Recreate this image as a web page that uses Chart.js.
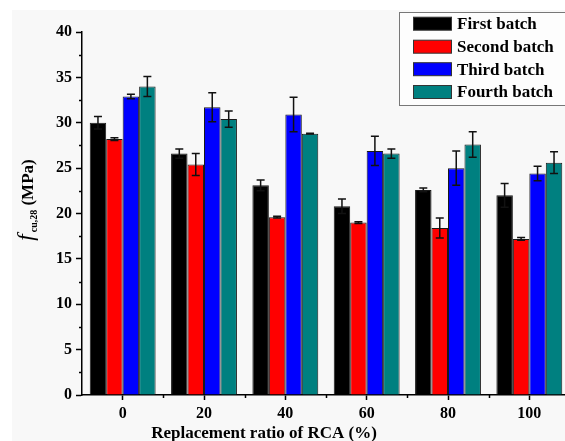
<!DOCTYPE html>
<html>
<head>
<meta charset="utf-8">
<script src="https://cdn.jsdelivr.net/npm/chart.js@4"></script>
<style>
  html, body { margin: 0; padding: 0; background: #fff; overflow: hidden; }
</style>
</head>
<body>
<canvas id="myChart" width="580" height="441"></canvas>
<script>
// replacement ratio of RCA (%)
var categories = ['0', '20', '40', '60', '80', '100'];

// f_cu,28 (MPa), with the half-length of each error bar
var firstBatch = [30.0, 26.6, 23.1, 20.8, 22.6, 22.0];
var firstErr = [0.7, 0.5, 0.6, 0.8, 0.2, 1.3];
var secondBatch = [28.2, 25.4, 19.6, 19.0, 18.4, 17.2];
var secondErr = [0.15, 1.2, 0.1, 0.1, 1.1, 0.15];
var thirdBatch = [32.9, 31.7, 30.9, 26.9, 25.0, 24.4];
var thirdErr = [0.25, 1.6, 1.9, 1.6, 1.9, 0.8];
var fourthBatch = [34.0, 30.4, 28.8, 26.6, 27.6, 25.6];
var fourthErr = [1.1, 0.9, 0.05, 0.5, 1.4, 1.2];

var seriesNames = ['First batch', 'Second batch', 'Third batch', 'Fourth batch'];
var seriesColors = ['#000000', '#ff0000', '#0000ff', '#008080'];
var yTicks = [0, 5, 10, 15, 20, 25, 30, 35, 40];

var FONT = '"Liberation Serif", "Times New Roman", serif';

var errors = [firstErr, secondErr, thirdErr, fourthErr];

// background, minor ticks, error bars, legend and axis titles
var extras = {
  id: 'extras',
  beforeDraw: function (chart) {
    var c = chart.ctx;
    c.save();
    c.fillStyle = '#ffffff';
    c.fillRect(0, 0, chart.width, chart.height);
    c.fillStyle = '#f8f8f8';
    c.fillRect(12, 10, chart.width - 12, chart.height - 10);
    c.restore();
  },
  afterDatasetsDraw: function (chart) {
    var c = chart.ctx;
    var ys = chart.scales.y;
    c.save();
    c.strokeStyle = '#111';
    c.lineWidth = 1.5;
    chart.data.datasets.forEach(function (ds, d) {
      var meta = chart.getDatasetMeta(d);
      meta.data.forEach(function (bar, i) {
        var v = ds.data[i], e = errors[d][i];
        var top = ys.getPixelForValue(v + e);
        var bot = ys.getPixelForValue(v - e);
        c.beginPath();
        c.moveTo(bar.x, top); c.lineTo(bar.x, bot);
        c.moveTo(bar.x - 4, top); c.lineTo(bar.x + 4, top);
        c.moveTo(bar.x - 4, bot); c.lineTo(bar.x + 4, bot);
        c.stroke();
      });
    });
    c.restore();
  },
  afterDraw: function (chart) {
    var c = chart.ctx;
    var xs = chart.scales.x, ys = chart.scales.y;
    var area = chart.chartArea;
    c.save();
    // minor ticks
    c.strokeStyle = '#000';
    c.lineWidth = 1.5;
    c.beginPath();
    for (var v = 2.5; v < 40; v += 5) {
      var py = Math.round(ys.getPixelForValue(v)) + 0.5;
      c.moveTo(area.left, py); c.lineTo(area.left - 3, py);
    }
    for (var i = 0; i < categories.length - 1; i++) {
      var px = Math.round((xs.getPixelForValue(i) + xs.getPixelForValue(i + 1)) / 2) + 0.5;
      c.moveTo(px, area.bottom); c.lineTo(px, area.bottom + 3);
    }
    c.stroke();

    // legend
    c.fillStyle = '#fdfdfd';
    c.fillRect(399.5, 12.5, 200, 93);
    c.strokeStyle = '#777';
    c.lineWidth = 1;
    c.strokeRect(399.5, 12.5, 200, 93);
    var rows = [23.7, 46.7, 69.2, 92];
    chart.data.datasets.forEach(function (ds, d) {
      c.fillStyle = ds.backgroundColor;
      c.fillRect(413, rows[d] - 6.5, 38, 13);
      c.strokeStyle = '#333';
      c.strokeRect(413.5, rows[d] - 6.5, 38, 13);
      c.fillStyle = '#000';
      c.font = 'bold 17px ' + FONT;
      c.textAlign = 'left';
      c.textBaseline = 'middle';
      c.fillText(ds.label, 457, rows[d] + 1);
    });

    // x title
    c.fillStyle = '#000';
    c.font = 'bold 17px ' + FONT;
    c.textAlign = 'center';
    c.textBaseline = 'alphabetic';
    c.fillText('Replacement ratio of RCA (%)', 264, 438);

    // y title: f_cu,28 (MPa)
    c.translate(27, 200);
    c.rotate(-Math.PI / 2);
    c.textAlign = 'left';
    var fFont = 'italic 23px ' + FONT;
    var subFont = 'bold 10px ' + FONT;
    var unitFont = 'bold 17px ' + FONT;
    c.font = fFont; var w1 = c.measureText('f').width;
    c.font = subFont; var w2 = c.measureText('cu,28').width;
    c.font = unitFont; var w3 = c.measureText(' (MPa)').width;
    var x0 = -(w1 + 2 + w2 + w3) / 2;
    c.font = fFont; c.fillText('f', x0, 6);
    c.font = subFont; c.fillText('cu,28', x0 + w1 + 2, 10);
    c.font = unitFont; c.fillText(' (MPa)', x0 + w1 + 2 + w2, 6);
    c.restore();
  }
};

var ctx = document.getElementById('myChart').getContext('2d');
var values = [firstBatch, secondBatch, thirdBatch, fourthBatch];
var myChart = new Chart(ctx, {
  type: 'bar',
  data: {
    labels: categories,
    datasets: values.map(function (arr, d) {
      return {
        label: seriesNames[d],
        data: arr,
        backgroundColor: seriesColors[d],
        borderColor: '#1a1a1a',
        borderWidth: 1,
        categoryPercentage: 0.81,
        barPercentage: 1.0
      };
    })
  },
  options: {
    responsive: false,
    animation: false,
    devicePixelRatio: 1,
    layout: { padding: { left: 0, top: 32, right: 10, bottom: 0 } },
    plugins: {
      legend: { display: false },
      tooltip: { enabled: false }
    },
    scales: {
      x: {
        offset: true,
        grid: { offset: false, drawOnChartArea: false, drawTicks: true, tickLength: 5, tickColor: '#000', tickWidth: 1.5 },
        border: { color: '#000', width: 1.5 },
        ticks: { color: '#000', padding: 4, font: { family: FONT, size: 16, weight: 'bold' } },
        afterFit: function (scale) { scale.height = 46; }
      },
      y: {
        min: 0,
        max: 40,
        afterBuildTicks: function (scale) {
          scale.ticks = yTicks.map(function (v) { return { value: v }; });
        },
        grid: { drawOnChartArea: false, drawTicks: true, tickLength: 6, tickColor: '#000', tickWidth: 1.5 },
        border: { color: '#000', width: 1.5 },
        ticks: { color: '#000', padding: 4, font: { family: FONT, size: 16, weight: 'bold' } },
        afterFit: function (scale) { scale.width = 82; }
      }
    }
  },
  plugins: [extras]
});
</script>
</body>
</html>
